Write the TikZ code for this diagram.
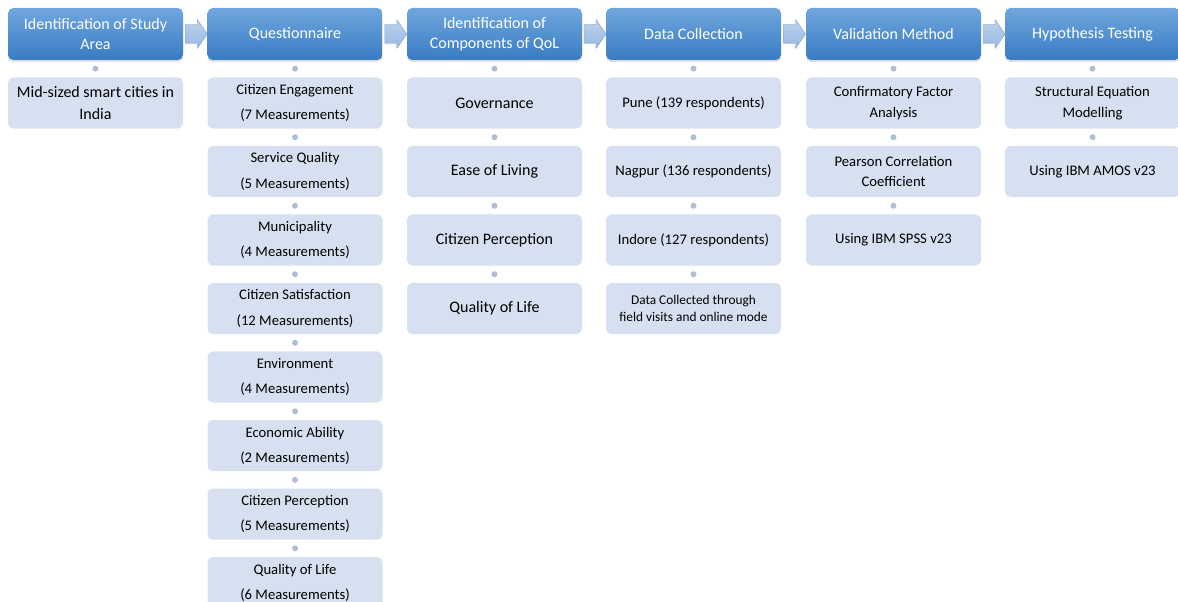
\documentclass[tikz,border=0pt]{standalone}
\usepackage{fontspec}
\setmainfont{Carlito}
\usepackage{tikz}
\usetikzlibrary{positioning,calc,shadows}
\definecolor{HeadTop}{RGB}{112,166,221}
\definecolor{HeadBot}{RGB}{56,124,196}
\definecolor{ItemFill}{RGB}{214,224,240}
\definecolor{ArrowTop}{RGB}{190,210,238}
\definecolor{ArrowBot}{RGB}{150,183,226}
\definecolor{DotFill}{RGB}{176,190,212}

\begin{document}
\begin{tikzpicture}[line cap=round,line join=round,x=0.75pt,y=-0.75pt
  ,node distance=12.6pt
  ,head/.style={rounded corners=4pt,top color=HeadTop,bottom color=HeadBot,
    text=white,minimum width=131.25pt,minimum height=39pt,inner sep=2pt,
    align=center,font=\fontsize{12}{15}\selectfont,
    drop shadow={shadow xshift=0pt,shadow yshift=-1.5pt,opacity=0.25}}
  ,item/.style={rounded corners=4pt,fill=ItemFill,minimum width=131.25pt,
    minimum height=38.4pt,inner sep=2pt,align=center,
    font=\fontsize{11}{15.5}\selectfont}
  ,measure/.style={item,font=\fontsize{11}{19}\selectfont}
  ,bigitem/.style={item,font=\fontsize{12}{17}\selectfont}
  ,dot/.style={circle,fill=DotFill,inner sep=0pt,minimum size=4.5pt}
  ,flow/.style={top color=ArrowTop,bottom color=ArrowBot,draw=ArrowBot!85!black,
    line width=0.3pt}]
  \useasboundingbox (0,0) rectangle (1178,602);
  % step headers
  \node[head] (h1) at (95.5,34) {Identification of Study\\Area};
  \node[head] (h2) at (295,34) {Questionnaire};
  \node[head] (h3) at (494.5,34) {Identification of\\Components of QoL};
  \node[head] (h4) at (693.5,34) {Data Collection};
  \node[head] (h5) at (893.5,34) {Validation Method};
  \node[head] (h6) at (1092.5,34) {Hypothesis Testing};
  \foreach \i [evaluate=\i as \j using int(\i+1)] in {1,...,5}{
    \path (h\i.east) -- (h\j.west) coordinate[pos=0.5] (m\i);
    \draw[flow] ($(m\i)+(-10,-9.5)$) -- ++(12,0) -- ++(0,-5) -- ++(10,14.5)
      -- ++(-10,14.5) -- ++(0,-5) -- ++(-12,0) -- cycle;
  }
  % study area
  \node[bigitem,below=of h1] (a1) {Mid-sized smart cities in\\India};
  % questionnaire
  \node[measure,below=of h2] (b1) {Citizen Engagement\\(7 Measurements)};
  \node[measure,below=of b1] (b2) {Service Quality\\(5 Measurements)};
  \node[measure,below=of b2] (b3) {Municipality\\(4 Measurements)};
  \node[measure,below=of b3] (b4) {Citizen Satisfaction\\(12 Measurements)};
  \node[measure,below=of b4] (b5) {Environment\\(4 Measurements)};
  \node[measure,below=of b5] (b6) {Economic Ability\\(2 Measurements)};
  \node[measure,below=of b6] (b7) {Citizen Perception\\(5 Measurements)};
  \node[measure,below=of b7] (b8) {Quality of Life\\(6 Measurements)};
  % components of QoL
  \node[bigitem,below=of h3] (c1) {Governance};
  \node[bigitem,below=of c1] (c2) {Ease of Living};
  \node[bigitem,below=of c2] (c3) {Citizen Perception};
  \node[bigitem,below=of c3] (c4) {Quality of Life};
  % data collection
  \node[item,below=of h4] (d1) {Pune (139 respondents)};
  \node[item,below=of d1] (d2) {Nagpur (136 respondents)};
  \node[item,below=of d2] (d3) {Indore (127 respondents)};
  \node[item,below=of d3,font=\fontsize{10}{12.5}\selectfont] (d4)
    {Data Collected through\\field visits and online mode};
  % validation
  \node[item,below=of h5] (e1) {Confirmatory Factor\\Analysis};
  \node[item,below=of e1] (e2) {Pearson Correlation\\Coefficient};
  \node[item,below=of e2] (e3) {Using IBM SPSS v23};
  % hypothesis testing
  \node[item,below=of h6] (g1) {Structural Equation\\Modelling};
  \node[item,below=of g1] (g2) {Using IBM AMOS v23};
  \foreach \a/\b in {h1/a1,h2/b1,b1/b2,b2/b3,b3/b4,b4/b5,b5/b6,b6/b7,b7/b8,
    h3/c1,c1/c2,c2/c3,c3/c4,h4/d1,d1/d2,d2/d3,d3/d4,h5/e1,e1/e2,e2/e3,h6/g1,g1/g2}
  \path (\a.south) -- (\b.north) node[dot,midway] {};
\end{tikzpicture}
\end{document}
